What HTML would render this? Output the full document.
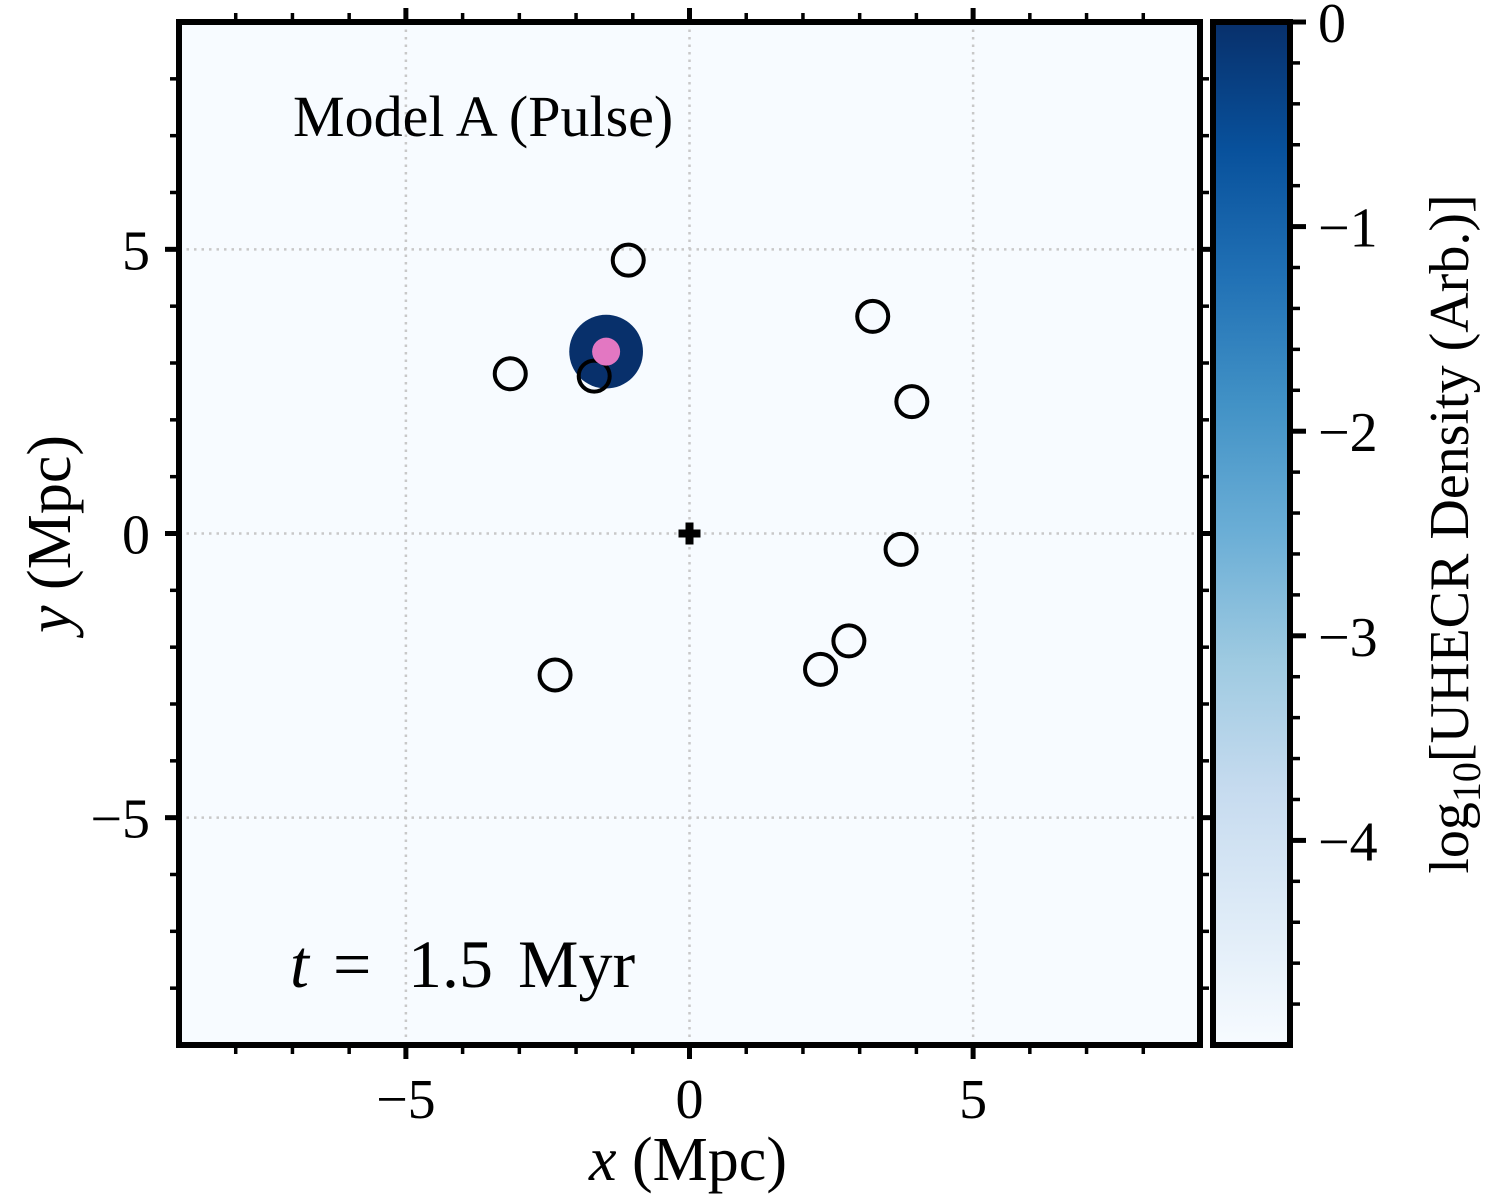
<!DOCTYPE html>
<html><head><meta charset="utf-8"><style>
html,body{margin:0;padding:0;background:#fff;}
svg{display:block;font-family:"Liberation Serif","DejaVu Serif",serif;}
</style></head><body>
<svg id="chart" width="1500" height="1200" viewBox="0 0 1500 1200" xmlns="http://www.w3.org/2000/svg">
<defs>
<linearGradient id="blues" x1="0" y1="1" x2="0" y2="0">
<stop offset="0" stop-color="#f7fbff"/><stop offset="0.125" stop-color="#deebf7"/><stop offset="0.25" stop-color="#c6dbef"/><stop offset="0.375" stop-color="#9ecae1"/><stop offset="0.5" stop-color="#6baed6"/><stop offset="0.625" stop-color="#4292c6"/><stop offset="0.75" stop-color="#2171b5"/><stop offset="0.875" stop-color="#08519c"/><stop offset="1" stop-color="#08306b"/>
</linearGradient>
<clipPath id="plotclip"><rect x="179" y="22" width="1021" height="1023"/></clipPath>
</defs>
<rect x="179" y="22" width="1021" height="1023" fill="#f7fbff"/>
<g id="grid"></g>
<g id="marks" clip-path="url(#plotclip)"></g>
<rect x="179" y="22" width="1021" height="1023" fill="none" stroke="#000" stroke-width="6"/>
<g id="axes"></g>
<text x="293" y="136" font-size="58">Model A (Pulse)</text>
<text y="987" font-size="68"><tspan x="290" font-style="italic">t</tspan><tspan x="333">=</tspan><tspan x="408">1.5</tspan><tspan x="518">Myr</tspan></text>
<text x="688" y="1180" font-size="62" text-anchor="middle"><tspan font-style="italic">x</tspan> (Mpc)</text>
<text transform="translate(70,534) rotate(-90)" font-size="62" text-anchor="middle"><tspan font-style="italic">y</tspan> (Mpc)</text>
<rect x="1213" y="22" width="77" height="1023" fill="url(#blues)" stroke="#000" stroke-width="6"/>
<g id="cbaxis"></g>
<text transform="translate(1468,534) rotate(-90)" font-size="56" text-anchor="middle">log<tspan font-size="40" dy="12">10</tspan><tspan dy="-12">[UHECR Density (Arb.)]</tspan></text>
</svg>
<script>
const xTicks=[-5,0,5];
const yTicks=[-5,0,5];
const cbTicks=[0,-1,-2,-3,-4];
const sourceX=[-1.08,-3.16,-1.68,3.23,3.92,3.73,2.81,2.31,-2.37];
const sourceY=[4.81,2.81,2.77,3.82,2.32,-0.28,-1.89,-2.39,-2.49];
const blobX=[-1.47];
const blobY=[3.2];
const blobR=[0.65];
const NS="http://www.w3.org/2000/svg";
const X0=179,X1=1200,Y0=22,Y1=1045;
const sx=v=>X0+(v+9)/18*(X1-X0);
const sy=v=>Y1-(v+9)/18*(Y1-Y0);
const cy=v=>Y0+(0-v)/5*(Y1-Y0);
function mk(tag,attrs,parent){const e=document.createElementNS(NS,tag);for(const k in attrs)e.setAttribute(k,attrs[k]);parent.appendChild(e);return e;}
const grid=document.getElementById('grid'),marks=document.getElementById('marks'),axes=document.getElementById('axes'),cb=document.getElementById('cbaxis');
xTicks.forEach(v=>{const l=mk('line',{x1:sx(v),x2:sx(v),y1:Y0,y2:Y1,stroke:'#c8c8c8','stroke-width':2.5,'stroke-dasharray':'2.5,5'},grid);

});
yTicks.forEach(v=>{const l=mk('line',{y1:sy(v),y2:sy(v),x1:X0,x2:X1,stroke:'#c8c8c8','stroke-width':2.5,'stroke-dasharray':'2.5,5'},grid);

});
blobX.forEach((v,i)=>{const c=mk('circle',{cx:sx(v),cy:sy(blobY[i]),r:blobR[i]*(X1-X0)/18,fill:'#08306b'},marks);

});
sourceX.forEach((v,i)=>{const c=mk('circle',{cx:sx(v),cy:sy(sourceY[i]),r:15.5,fill:'none',stroke:'#000','stroke-width':4},marks);

});
blobX.forEach((v,i)=>{const c=mk('circle',{cx:sx(v),cy:sy(blobY[i]),r:14,fill:'#e377c2'},marks);

});
const obs=mk('path',{d:`M${sx(0)-4},${sy(0)-11}h8v7h7v8h-7v7h-8v-7h-7v-8h7z`,fill:'#000'},marks);


for(let v=-8;v<=8;v++){const major=v%5===0;const L=major?14:9,w=major?5:3.5;
 [[sx(v),Y1,sx(v),Y1+L],[sx(v),Y0,sx(v),Y0-L]].forEach(p=>{const t=mk('line',{x1:p[0],y1:p[1],x2:p[2],y2:p[3],stroke:'#000','stroke-width':w},axes);
 
 });
 [[X0,sy(v),X0-L,sy(v)],[X1,sy(v),X1+L,sy(v)]].forEach(p=>{const t=mk('line',{x1:p[0],y1:p[1],x2:p[2],y2:p[3],stroke:'#000','stroke-width':w},axes);
 
 });}
xTicks.forEach(v=>{const t=mk('text',{x:sx(v),y:1118,'font-size':56,'text-anchor':'middle'},axes);t.textContent=v<0?'\u2212'+(-v):String(v);

});
yTicks.forEach(v=>{const t=mk('text',{x:150,y:sy(v)+20,'font-size':56,'text-anchor':'end'},axes);t.textContent=v<0?'\u2212'+(-v):String(v);

});
for(let k=0;k<25;k++){const v=-k*0.2;const major=k%5===0;const t=mk('line',{x1:1290,x2:1290+(major?16:10),y1:cy(v),y2:cy(v),stroke:'#000','stroke-width':major?5:3.5},cb);

}
cbTicks.forEach(v=>{const t=mk('text',{x:1318,y:cy(v)+20,'font-size':56},cb);t.textContent=v<0?'\u2212'+(-v):String(v);

});
</script>
</body></html>
